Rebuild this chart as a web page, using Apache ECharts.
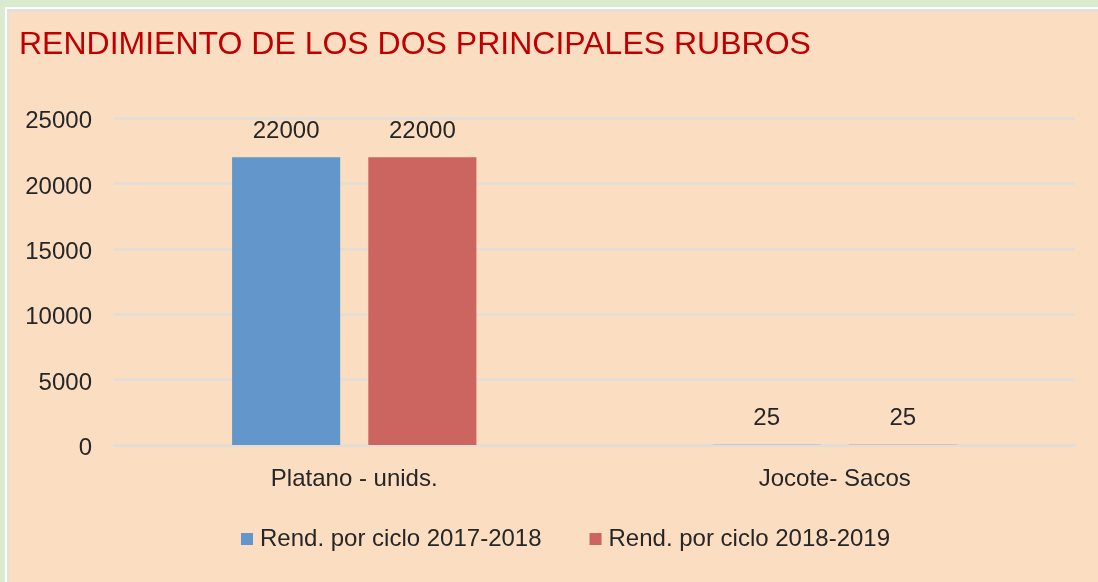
<!DOCTYPE html>
<html>
<head>
<meta charset="utf-8">
<script src="https://cdn.jsdelivr.net/npm/echarts@6/dist/echarts.min.js"></script>
<style>
    body { margin: 0; background: #dbebd0; }
    #frame { position: absolute; left: 5px; top: 7px; right: 0; bottom: 0; background: #ffffff; }
    #edge { position: absolute; left: 7px; top: 9px; right: 0; bottom: 0; background: #e3e0dc; }
    #panel { position: absolute; left: 9px; top: 12px; right: 0; bottom: 0; background: #fbdec2; }
    #main { position: absolute; left: 0; top: 0; width: 1098px; height: 582px; }
</style>
</head>
<body>
<div id="frame"></div>
<div id="edge"></div>
<div id="panel"></div>
<div id="main"></div>
<script>
var categories = ["Platano - unids.", "Jocote- Sacos"];
var seriesNames = ["Rend. por ciclo 2017-2018", "Rend. por ciclo 2018-2019"];
var rend2017 = [22000, 25];
var rend2018 = [22000, 25];
var colors = ["#6396ca", "#cc655f"];

function renderChart(id) {
    //columnas agrupadas
    var font = "Liberation Sans Narrow, Liberation Sans, Arial, sans-serif";
    var myChart = echarts.init(document.getElementById(id));
    var option = {
        animation: false,
        backgroundColor: "transparent",
        title: {
            text: "RENDIMIENTO DE LOS DOS PRINCIPALES RUBROS",
            left: 19,
            top: 29,
            padding: 0,
            textStyle: {
                color: "#c00000",
                fontFamily: font,
                fontSize: 32,
                fontWeight: "normal"
            }
        },
        legend: {
            left: 241,
            top: 527,
            padding: 0,
            icon: "rect",
            itemWidth: 12,
            itemHeight: 12,
            itemGap: 48,
            data: seriesNames,
            textStyle: {
                color: "#262626",
                fontFamily: font,
                fontSize: 24,
                padding: [0, 0, 0, 2]
            }
        },
        grid: {
            left: 114,
            right: 23,
            top: 118,
            bottom: 137,
            containLabel: false
        },
        xAxis: {
            type: "category",
            data: categories,
            axisTick: { show: false },
            axisLine: {
                lineStyle: { color: "#e1ddd8", width: 2.5 }
            },
            axisLabel: {
                margin: 22,
                color: "#262626",
                fontFamily: font,
                fontSize: 24
            }
        },
        yAxis: {
            type: "value",
            min: 0,
            max: 25000,
            interval: 5000,
            axisLine: { show: false },
            axisTick: { show: false },
            splitLine: {
                lineStyle: { color: "#e1ddd8", width: 2.5 }
            },
            axisLabel: {
                margin: 22,
                formatter: function (v) { return "{t|" + v + "}"; },
                rich: {
                    t: {
                        color: "#262626",
                        fontFamily: font,
                        fontSize: 24,
                        padding: [7, 0, 0, 0]
                    }
                }
            }
        },
        series: [{
            name: seriesNames[0],
            type: "bar",
            data: rend2017,
            barWidth: "22.5%",
            barGap: "26%",
            itemStyle: { color: colors[0] },
            label: {
                show: true,
                position: "top",
                distance: 14,
                color: "#262626",
                fontFamily: font,
                fontSize: 24
            }
        }, {
            name: seriesNames[1],
            type: "bar",
            data: rend2018,
            barWidth: "22.5%",
            barGap: "26%",
            itemStyle: { color: colors[1] },
            label: {
                show: true,
                position: "top",
                distance: 14,
                color: "#262626",
                fontFamily: font,
                fontSize: 24
            }
        }]
    };
    myChart.setOption(option);
}

renderChart("main");
</script>
</body>
</html>
